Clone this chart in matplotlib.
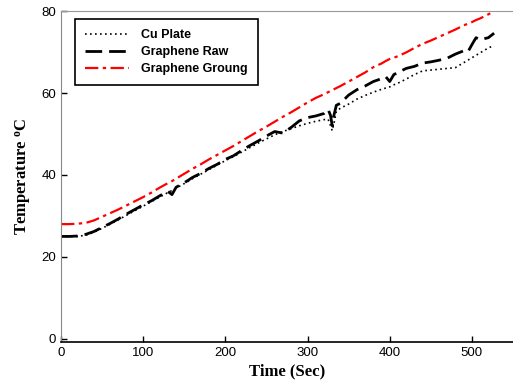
import matplotlib.pyplot as plt

plt.rcParams['font.family'] = 'Liberation Sans'
plt.rcParams['mathtext.fontset'] = 'custom'
plt.rcParams['mathtext.rm'] = 'Liberation Serif:bold'
plt.rcParams['mathtext.it'] = 'Liberation Serif:bold'
plt.rcParams['mathtext.bf'] = 'Liberation Serif:bold'

t = [0, 10, 20, 30, 40, 50, 60, 70, 80, 90, 100, 110, 120, 130, 135, 140, 150, 160, 170, 180,
     190, 200, 210, 220, 230, 240, 250, 260, 270, 280, 290, 300, 310, 320, 325, 328, 330, 332, 335,
     340, 350, 360, 370, 380, 390, 395, 400, 405, 410, 420, 430, 440, 450, 460, 470, 480, 490, 495,
     500, 505, 510, 520, 527]

cu_plate = [25.0, 25.0, 25.0, 25.3, 26.0, 27.0, 28.0, 29.1, 30.2, 31.3, 32.4, 33.5, 34.6, 35.7, 36.2,
            36.8, 37.9, 39.1, 40.2, 41.3, 42.4, 43.5, 44.5, 45.6, 46.7, 47.8, 48.8, 49.8, 50.6, 51.3,
            52.0, 52.6, 53.1, 53.5, 53.6, 52.0, 50.8, 52.5, 55.5, 56.3, 57.3, 58.5, 59.4, 60.2, 60.9,
            61.2, 61.5, 62.0, 62.4, 63.4, 64.5, 65.4, 65.6, 65.8, 66.0, 66.2, 67.4, 68.0, 68.6, 69.2,
            69.8, 71.0, 71.6]

graphene_raw = [25.0, 25.0, 25.1, 25.5, 26.2, 27.2, 28.2, 29.3, 30.5, 31.6, 32.7, 33.7, 34.9, 36.0,
                35.2, 37.0, 38.1, 39.4, 40.4, 41.6, 42.6, 43.8, 44.7, 46.0, 47.2, 48.3, 49.5, 50.6,
                50.2, 51.6, 53.2, 54.0, 54.4, 55.0, 56.0, 54.5, 52.0, 54.5, 57.0, 57.5, 59.5, 60.8,
                61.7, 62.8, 63.5, 64.0, 62.8, 64.5, 65.0, 66.0, 66.5, 67.3, 67.6, 68.0, 68.5, 69.5,
                70.3, 70.0, 71.8, 73.5, 73.0, 73.5, 74.6]

graphene_groung = [28.0, 28.0, 28.1, 28.3, 28.9, 29.8, 30.7, 31.6, 32.6, 33.6, 34.6, 35.7, 36.9, 38.0,
                   38.5, 39.1, 40.3, 41.5, 42.6, 43.8, 44.9, 46.0, 47.1, 48.3, 49.5, 50.7, 51.8, 53.0,
                   54.2, 55.3, 56.5, 57.7, 58.8, 59.7, 60.2, 60.5, 60.7, 60.9, 61.2, 61.7, 62.8, 63.9,
                   65.0, 66.3, 67.2, 67.8, 68.3, 68.6, 69.0, 69.9, 71.0, 72.0, 72.8, 73.7, 74.6, 75.5,
                   76.5, 76.9, 77.3, 77.8, 78.2, 79.2, 80.0]

fig = plt.figure(figsize=(5.13, 3.81), dpi=100)
ax = fig.add_axes([0.119, 0.102, 0.881, 0.869])

ax.plot(t, cu_plate, color='black', linestyle=(0, (1, 2)), linewidth=1.2, label='Cu Plate')
ax.plot(t, graphene_raw, color='black', linestyle=(0, (6, 2.5)), linewidth=2.0, label='Graphene Raw')
ax.plot(t, graphene_groung, color='red', linestyle=(0, (6, 2, 1.5, 2)), linewidth=1.6,
        label='Graphene Groung')

ax.set_xlim(0, 550)
ax.set_ylim(-0.8, 80)
ax.set_xticks([0, 100, 200, 300, 400, 500])
ax.set_yticks([0, 20, 40, 60, 80])
ax.tick_params(direction='in', labelsize=9.5, length=4, width=1)

ax.spines['top'].set_color('#999999')
ax.spines['left'].set_color('#888888')
ax.spines['right'].set_visible(False)
ax.spines['bottom'].set_color('black')
ax.spines['bottom'].set_linewidth(1.2)

ax.set_xlabel('Time (Sec)', family='Liberation Serif', fontweight='bold', fontsize=12, labelpad=3)
ax.set_ylabel(r'Temperature $^{\mathrm{o}}$C', family='Liberation Serif', fontweight='bold',
              fontsize=12, labelpad=5)

leg = ax.legend(loc='upper left', bbox_to_anchor=(0.031, 0.975), prop={'weight': 'bold', 'size': 9},
                fancybox=False, edgecolor='black', framealpha=1, handlelength=3.5,
                borderpad=0.8, labelspacing=0.4, handletextpad=1.0, borderaxespad=0)
leg.get_frame().set_linewidth(1.2)

plt.savefig('out.png', dpi=100)
